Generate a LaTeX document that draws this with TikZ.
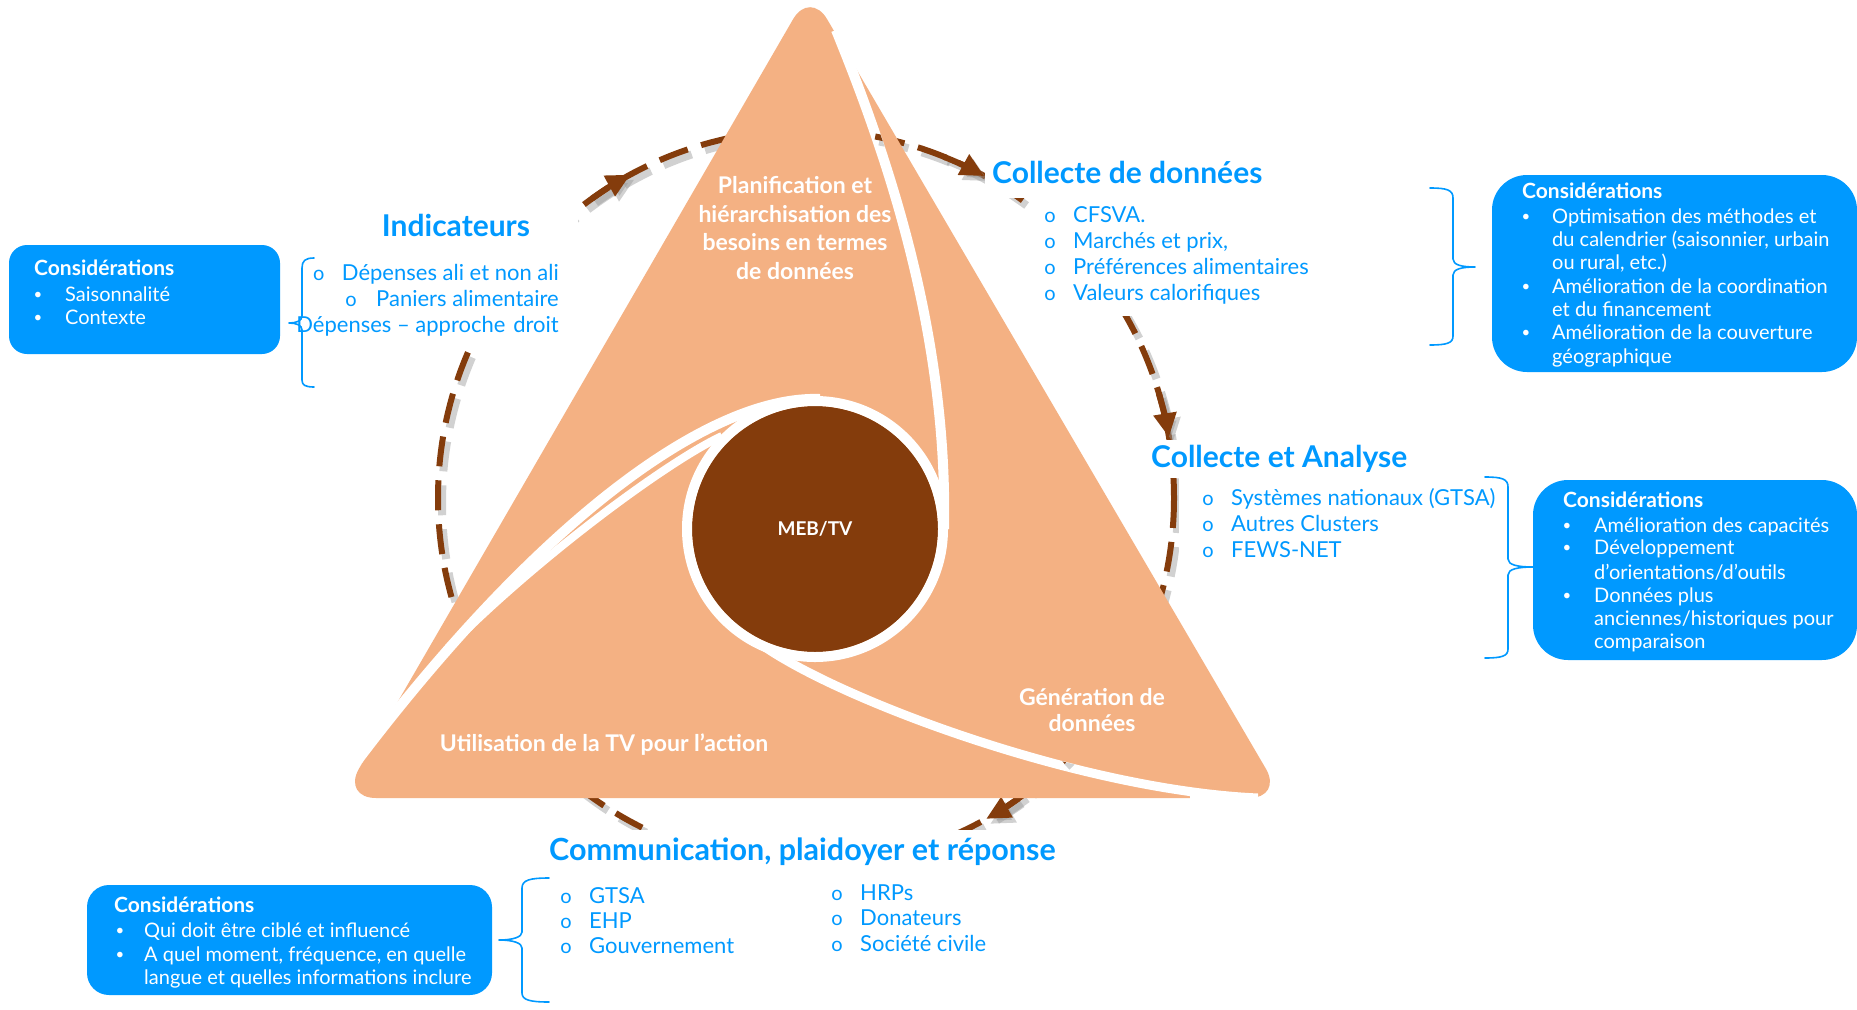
\documentclass[tikz,border=0pt]{standalone}
\usepackage{fontspec}
\setmainfont{Lato}
\usetikzlibrary{arrows.meta}
\definecolor{tri}{HTML}{F4B183}
\definecolor{dk}{HTML}{843C0C}
\definecolor{bl}{HTML}{0099FF}
\newcommand\bitem[4]{\node[item] (#1) at (#2,#3) {#4}; \node[bul] (#1b) at ([xshift=-23pt]#1.west) {o};}
\newcommand\cbitem[5]{\node[cbul] (#1b) at (#2,#4) {•}; \node[cons] (#1) at (#3,#4) {#5};}
\newcommand\clitem[4]{\node[cons] (#1) at (#2,#3) {#4};}
\begin{document}
\begin{tikzpicture}[x=1pt,y=-1pt,
  title/.style={font=\fontsize{30}{34}\selectfont\bfseries, text=bl, inner sep=0pt, text height=21.5pt, text depth=6pt},
  item/.style={font=\fontsize{22}{26}\selectfont, text=bl, inner sep=0pt, anchor=west, text height=15.5pt, text depth=4.5pt},
  bul/.style={font=\fontsize{20}{24}\selectfont, text=bl, inner sep=0pt, anchor=center},
  cons/.style={font=\fontsize{20}{24}\selectfont, text=white, inner sep=0pt, anchor=west, text height=14.5pt, text depth=4pt},
  cbul/.style={font=\fontsize{15}{18}\selectfont, text=white, inner sep=0pt, anchor=center},
  consh/.style={font=\fontsize{21}{24}\selectfont\bfseries, text=white, inner sep=0pt, anchor=west, text height=15pt, text depth=4.5pt},
  tlab/.style={font=\fontsize{23}{28.5}\selectfont\bfseries, text=white, align=center, inner sep=0pt},
  bbox/.style={fill=bl},
  brace/.style={draw=bl, line width=1.6pt, line cap=round, line join=round},
  gapline/.style={draw=white, line width=10pt},
  dashc/.style={draw=dk, line width=6pt, dash pattern=on 30pt off 14pt},
  dshadow/.style={draw=black!40, opacity=0.45, line width=8pt, dash pattern=on 30pt off 14pt},
  arr/.style={draw=dk, line width=6pt, -{Triangle[length=24pt,width=22pt]}},
  arrsh/.style={draw=black!40, opacity=0.45, line width=6pt, -{Triangle[length=24pt,width=22pt]}}
]
\useasboundingbox[fill=white] (0,0) rectangle (1857,1009);
% ---- dashed cycle ----
\coordinate (C) at (806,498);
\draw[dshadow] ([shift={(4,5)}]C) circle (368);
\draw[dashc] (C) circle (368);
\foreach \a in {-118.5,-61,-9.5,60.7}{
  \draw[arrsh] ([shift={(4,5)}]C) ++(\a-7:368) arc[start angle=\a-7, end angle=\a, radius=368];
  \draw[arr] (C) ++(\a-7:368) arc[start angle=\a-7, end angle=\a, radius=368];
}
% ---- white backgrounds of text blocks ----
\fill[white] (300,207) rectangle (578,349);
\fill[white] (985,150) rectangle (1300,198);
\fill[white] (1030,198) rectangle (1330,316);
\fill[white] (1148,440) rectangle (1420,478);
\fill[white] (1179,478) rectangle (1490,575);
\fill[white] (540,830) rectangle (1062,876);
% ---- triangle ----
\fill[tri, rounded corners=34pt] (810,-10) -- (1283,798) -- (342,798) -- cycle;
\draw[gapline] (836,30) .. controls (885,150) and (948,330) .. (944,529);
\draw[gapline] (820,399) .. controls (710,395) and (540,520) .. (358,760);
\draw[gapline, line width=8pt] (722,436) .. controls (670,460) and (540,555) .. (448,648);
\draw[gapline, line width=9pt] (762,645) .. controls (840,700) and (1080,790) .. (1258,798);
\fill[white] (1190,801) -- (1190,794) -- (1262,797) -- (1264,803) -- cycle;
% dashes seen through the gaps
\begin{scope}
\clip (831,30) .. controls (880,150) and (943,330) .. (939,529) -- (949,529) .. controls (953,330) and (890,150) .. (841,30) -- cycle
      (762,641) .. controls (840,695.5) and (1080,785.5) .. (1255,793.5) -- (1255,802.5) .. controls (1080,794.5) and (840,704.5) .. (762,649.5) -- cycle;
\draw[dshadow] ([shift={(4,5)}]C) circle (368);
\draw[dashc] (C) circle (368);
\draw[arr] (C) ++(53.7:368) arc[start angle=53.7, end angle=60.7, radius=368];
\end{scope}
\fill[dk] (815,529) circle (123);
\draw[white, line width=10pt] (815,529) circle (128);
% ---- triangle labels ----
\node[tlab] (plan) at (795,228) {Planification et\\hiérarchisation des\\besoins en termes\\de données};
\node[tlab, font=\fontsize{19}{22}\selectfont\bfseries] (meb) at (815,529) {MEB/TV};
\node[tlab, font=\fontsize{23}{26}\selectfont\bfseries] (gen) at (1092,710) {Génération de\\données};
\node[tlab] (util) at (604,745) {Utilisation de la TV pour l'action};
% ---- Indicateurs ----
\node[title] (indT) at (456,229) {Indicateurs};
\node[item, anchor=east] (ind1) at (559,275) {Dépenses ali et non ali};
\node[bul] (ind1b) at ([xshift=-23pt]ind1.west) {o};
\node[item, anchor=east] (ind2) at (559,301) {Paniers alimentaire};
\node[bul] (ind2b) at ([xshift=-25pt]ind2.west) {o};
\node[item, anchor=east] (ind3) at (559,327) {Dépenses – approche\hspace{0.1em} droit};
\draw[brace] (314,258) .. controls (305,258) and (302,261) .. (302,268) -- (302,316) .. controls (302,321) and (296,323) .. (289,323) .. controls (296,323) and (302,325) .. (302,330) -- (302,380) .. controls (302,385) and (305,387) .. (314,387);
\fill[bbox, rounded corners=18pt] (9,245) rectangle (280,354);
\node[consh] (indCh) at (34,270) {Considérations};
\cbitem{indC1}{38}{65}{296}{Saisonnalité}
\cbitem{indC2}{38}{65}{319}{Contexte}
% ---- Collecte de donnees ----
\node[title, anchor=west] (cdT) at (992,176) {Collecte de données};
\bitem{cd1}{1073}{217}{CFSVA.}
\bitem{cd2}{1073}{243}{Marchés et prix,}
\bitem{cd3}{1073}{269}{Préférences alimentaires}
\bitem{cd4}{1073}{295}{Valeurs calorifiques}
\draw[brace] (1430,188) .. controls (1447,188) and (1453,190) .. (1453,198) -- (1453,259) .. controls (1453,265) and (1462,267) .. (1475,267) .. controls (1462,267) and (1453,269) .. (1453,275) -- (1453,336) .. controls (1453,343) and (1447,345) .. (1430,345);
\fill[bbox, rounded corners=35pt] (1492,175) rectangle (1857,372);
\node[consh] (cdCh) at (1522,193) {Considérations};
\cbitem{cdC1}{1526}{1552}{218}{Optimisation des méthodes et}
\clitem{cdC1b}{1552}{241}{du calendrier (saisonnier, urbain}
\clitem{cdC1c}{1552}{264}{ou rural, etc.)}
\cbitem{cdC2}{1526}{1552}{288}{Amélioration de la coordination}
\clitem{cdC2b}{1552}{311}{et du financement}
\cbitem{cdC3}{1526}{1552}{334}{Amélioration de la couverture}
\clitem{cdC3b}{1552}{358}{géographique}
% ---- Collecte et Analyse ----
\node[title, anchor=west] (caT) at (1151,460) {Collecte et Analyse};
\bitem{ca1}{1231}{500}{Systèmes nationaux (GTSA)}
\bitem{ca2}{1231}{526}{Autres Clusters}
\bitem{ca3}{1231}{552}{FEWS-NET}
\draw[brace] (1485,477) .. controls (1502,477) and (1508,479) .. (1508,487) -- (1508,559) .. controls (1508,565) and (1518,567) .. (1533,567) .. controls (1518,567) and (1508,569) .. (1508,575) -- (1508,649) .. controls (1508,656) and (1502,658) .. (1485,658);
\fill[bbox, rounded corners=35pt] (1533,480) rectangle (1857,660);
\node[consh] (caCh) at (1563,502) {Considérations};
\cbitem{caC1}{1567}{1594}{527}{Amélioration des capacités}
\cbitem{caC2}{1567}{1594}{549}{Développement}
\clitem{caC2b}{1594}{574}{d'orientations/d'outils}
\cbitem{caC3}{1567}{1594}{597}{Données plus}
\clitem{caC3b}{1594}{620}{anciennes/historiques pour}
\clitem{caC3c}{1594}{643}{comparaison}
% ---- Communication ----
\node[title, anchor=west, font=\fontsize{30.5}{34}\selectfont\bfseries] (coT) at (549,853) {Communication, plaidoyer et réponse};
\bitem{co1}{589}{898}{GTSA}
\bitem{co2}{589}{923}{EHP}
\bitem{co3}{589}{948}{Gouvernement}
\bitem{co4}{860}{895}{HRPs}
\bitem{co5}{860}{920}{Donateurs}
\bitem{co6}{860}{946}{Société civile}
\draw[brace] (549,878) .. controls (530,878) and (522,880) .. (522,888) -- (522,932) .. controls (522,937) and (513,940) .. (499,940) .. controls (513,940) and (522,943) .. (522,948) -- (522,993) .. controls (522,1000) and (530,1002) .. (549,1002);
\fill[bbox, rounded corners=22pt] (87,885) rectangle (492,995);
\node[consh] (coCh) at (114,907) {Considérations};
\cbitem{coC1}{120}{144}{932}{Qui doit être ciblé et influencé}
\cbitem{coC2}{120}{144}{956}{A quel moment, fréquence, en quelle}
\clitem{coC2b}{144}{979}{langue et quelles informations inclure}
\end{tikzpicture}
\end{document}
